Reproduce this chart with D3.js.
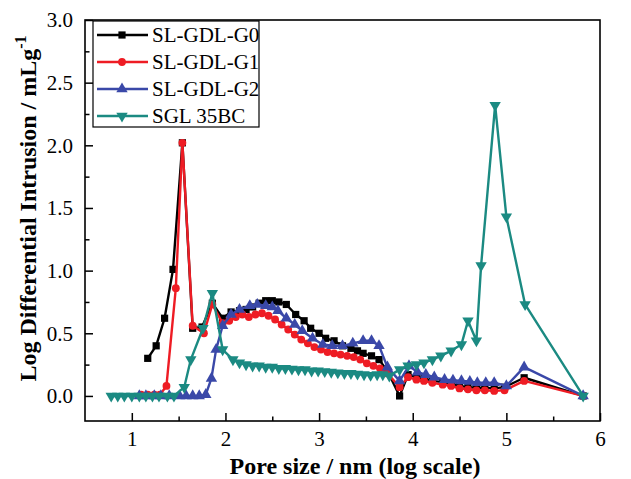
<!DOCTYPE html>
<html>
<head>
<meta charset="utf-8">
<script src="https://cdn.jsdelivr.net/npm/d3@7/dist/d3.min.js"></script>
<style>
  html, body { margin: 0; padding: 0; background: #fff; }
  svg { display: block; }
  text { font-family: "Liberation Serif", "Times New Roman", serif; fill: #000; }
</style>
</head>
<body>
<script>
// log10 pore size (nm) and log differential intrusion (mL/g) per sample
const g0X = [1.17,1.26,1.35,1.44,1.54,1.65,1.75,1.86,1.97,2.06,2.15,2.22,2.29,2.36,2.43,2.50,2.57,2.65,2.75,2.84,2.91,3.00,3.07,3.16,3.25,3.34,3.41,3.47,3.56,3.64,3.73,3.86,3.95,4.04,4.12,4.21,4.32,4.41,4.50,4.59,4.68,4.77,4.87,4.98,5.19,5.82];
const g0Y = [0.30,0.40,0.62,1.01,2.02,0.54,0.55,0.74,0.62,0.67,0.68,0.69,0.71,0.74,0.76,0.76,0.75,0.73,0.65,0.60,0.54,0.50,0.46,0.44,0.40,0.38,0.36,0.34,0.32,0.29,0.20,0.00,0.17,0.15,0.14,0.12,0.11,0.10,0.08,0.07,0.065,0.065,0.06,0.07,0.145,0.0];

const g1X = [1.10,1.17,1.24,1.30,1.37,1.47,1.54,1.65,1.77,1.86,1.97,2.04,2.11,2.18,2.25,2.32,2.39,2.46,2.53,2.60,2.67,2.74,2.81,2.88,2.95,3.02,3.09,3.16,3.23,3.30,3.37,3.44,3.51,3.58,3.65,3.73,3.86,3.95,4.04,4.12,4.21,4.32,4.41,4.50,4.59,4.68,4.77,4.87,4.98,5.19,5.82];
const g1Y = [0.01,0.01,0.01,0.01,0.08,0.86,2.02,0.56,0.50,0.73,0.58,0.60,0.63,0.65,0.63,0.65,0.66,0.64,0.61,0.57,0.53,0.49,0.45,0.42,0.39,0.37,0.35,0.34,0.33,0.32,0.31,0.29,0.26,0.24,0.22,0.18,0.07,0.15,0.13,0.12,0.105,0.09,0.08,0.06,0.053,0.045,0.045,0.04,0.045,0.12,0.0];

const g2X = [1.08,1.15,1.24,1.31,1.40,1.51,1.58,1.65,1.72,1.79,1.85,1.90,1.97,2.06,2.15,2.26,2.34,2.43,2.50,2.56,2.65,2.74,2.82,2.93,3.04,3.14,3.25,3.36,3.47,3.56,3.64,3.73,3.86,3.96,4.05,4.14,4.23,4.34,4.43,4.52,4.61,4.69,4.78,4.87,5.00,5.19,5.82];
const g2Y = [0.0,0.0,0.0,0.0,0.0,0.0,0.0,0.0,0.0,0.01,0.14,0.37,0.56,0.65,0.69,0.72,0.73,0.72,0.71,0.68,0.62,0.57,0.52,0.46,0.41,0.40,0.40,0.42,0.44,0.44,0.40,0.23,0.12,0.24,0.19,0.17,0.15,0.13,0.125,0.12,0.115,0.105,0.105,0.105,0.08,0.23,0.0];

const sglX = [0.78,0.85,0.92,1.00,1.08,1.15,1.22,1.29,1.38,1.45,1.56,1.63,1.76,1.86,1.97,2.08,2.15,2.22,2.29,2.36,2.43,2.50,2.57,2.64,2.71,2.78,2.85,2.92,2.99,3.06,3.13,3.20,3.27,3.34,3.41,3.48,3.55,3.62,3.68,3.75,3.86,3.95,4.04,4.12,4.21,4.30,4.41,4.52,4.59,4.68,4.73,4.88,5.00,5.20,5.82];
const sglY = [0,0,0,0,0,0,0,0,0,0,0.07,0.29,0.54,0.82,0.37,0.29,0.265,0.25,0.24,0.24,0.23,0.23,0.22,0.22,0.215,0.21,0.21,0.20,0.20,0.195,0.19,0.185,0.18,0.18,0.175,0.17,0.165,0.17,0.17,0.16,0.21,0.24,0.25,0.265,0.29,0.32,0.36,0.41,0.60,0.44,1.04,2.32,1.43,0.73,0.0];

const seriesNames = ["SL-GDL-G0", "SL-GDL-G1", "SL-GDL-G2", "SGL 35BC"];
const xTicks = [1, 2, 3, 4, 5, 6];
const yTicks = [0.0, 0.5, 1.0, 1.5, 2.0, 2.5, 3.0];

const series = [
  { name: seriesNames[0], xs: g0X, ys: g0Y, color: "#000000", shape: "square" },
  { name: seriesNames[1], xs: g1X, ys: g1Y, color: "#ee1c24", shape: "circle" },
  { name: seriesNames[2], xs: g2X, ys: g2Y, color: "#3a48a8", shape: "up" },
  { name: seriesNames[3], xs: sglX, ys: sglY, color: "#1b8a82", shape: "down" }
];

const W = 631, H = 479;
const m = { left: 85, right: 31, top: 20, bottom: 58 };

const svg = d3.select("body").append("svg").attr("width", W).attr("height", H);

const x = d3.scaleLinear().domain([0.5, 6]).range([m.left, W - m.right]);
const y = d3.scaleLinear().domain([-0.2, 3.0]).range([H - m.bottom, m.top]);

const symbolFor = {
  square: d3.symbol().type(d3.symbolSquare).size(52),
  circle: d3.symbol().type(d3.symbolCircle).size(48),
  up: d3.symbol().type(d3.symbolTriangle).size(56),
  down: d3.symbol().type(d3.symbolTriangle).size(56)
};
function marker(sel, shape, color) {
  sel.append("path")
    .attr("d", symbolFor[shape]())
    .attr("fill", color)
    .attr("transform", shape === "down" ? "rotate(180)" : null);
}

// axes: ticks point inward, minor ticks between labelled values
const plotG = svg.append("g");

const xAxis = d3.axisBottom(x).tickValues(xTicks).tickSize(-8).tickPadding(10).tickFormat(d3.format("d"));
const xMinor = d3.axisBottom(x).tickValues(d3.range(1.5, 6, 1)).tickSize(-4.5).tickFormat("");
const yAxis = d3.axisLeft(y).tickValues(yTicks).tickSize(-8).tickPadding(12).tickFormat(d3.format(".1f"));
const yMinor = d3.axisLeft(y).tickValues(d3.range(0.25, 3, 0.5)).tickSize(-4.5).tickFormat("");

function styleAxis(g) {
  g.select(".domain").remove();
  g.selectAll("line").attr("stroke", "#000").attr("stroke-width", 1.5);
  g.selectAll("text").style("font-size", "21px").style("font-family", "Liberation Serif");
}

plotG.append("g").attr("transform", `translate(0,${H - m.bottom})`).call(xAxis).call(styleAxis);
plotG.append("g").attr("transform", `translate(0,${H - m.bottom})`).call(xMinor).call(styleAxis);
plotG.append("g").attr("transform", `translate(${m.left},0)`).call(yAxis).call(styleAxis);
plotG.append("g").attr("transform", `translate(${m.left},0)`).call(yMinor).call(styleAxis);

// frame
svg.append("rect")
  .attr("x", m.left).attr("y", m.top)
  .attr("width", W - m.left - m.right).attr("height", H - m.top - m.bottom)
  .attr("fill", "none").attr("stroke", "#000").attr("stroke-width", 1.6);

// series lines and markers
const line = d3.line().x(d => x(d[0])).y(d => y(d[1]));
series.forEach(s => {
  const pts = s.xs.map((v, i) => [v, s.ys[i]]);
  const g = svg.append("g");
  g.append("path").datum(pts).attr("d", line)
    .attr("fill", "none").attr("stroke", s.color).attr("stroke-width", 2.4)
    .attr("stroke-linejoin", "round");
  g.selectAll("g.pt").data(pts).join("g").attr("class", "pt")
    .attr("transform", d => `translate(${x(d[0])},${y(d[1])})`)
    .each(function () { marker(d3.select(this), s.shape, s.color); });
});

// legend
const lg = svg.append("g");
lg.append("rect").attr("x", 93).attr("y", 21).attr("width", 166).attr("height", 106)
  .attr("fill", "#fff").attr("stroke", "#000").attr("stroke-width", 1.2);
series.forEach((s, i) => {
  const cy = 35 + i * 27;
  lg.append("line").attr("x1", 97).attr("x2", 148).attr("y1", cy).attr("y2", cy)
    .attr("stroke", s.color).attr("stroke-width", 2.4);
  const mg = lg.append("g").attr("transform", `translate(122,${cy})`);
  marker(mg, s.shape, s.color);
  lg.append("text").attr("x", 152).attr("y", cy + 7).style("font-size", "21px").text(s.name);
});

// axis titles
svg.append("text")
  .attr("x", 355).attr("y", 474)
  .attr("text-anchor", "middle")
  .style("font-size", "24px").style("font-weight", "bold")
  .text("Pore size / nm (log scale)");

const yt = svg.append("text")
  .attr("transform", `translate(36,${(m.top + H - m.bottom) / 2 - 12}) rotate(-90)`)
  .attr("text-anchor", "middle")
  .style("font-size", "24px").style("font-weight", "bold");
yt.append("tspan").text("Log Differential Intrusion / mLg");
yt.append("tspan").attr("dy", -10).style("font-size", "16px").text("-1");
</script>
</body>
</html>
